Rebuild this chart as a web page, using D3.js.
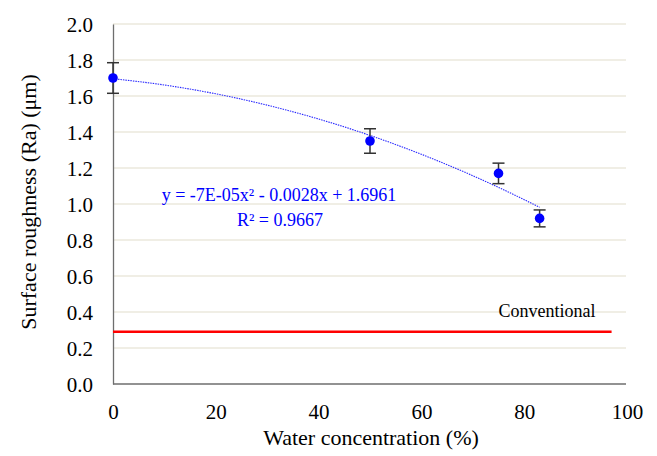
<!DOCTYPE html>
<html><head><meta charset="utf-8">
<script src="https://cdn.jsdelivr.net/npm/d3@7/dist/d3.min.js"></script>
<style>body{margin:0;background:#fff}svg{display:block}</style>
</head><body><svg id="c" width="657" height="456">
<text x="371" y="445" text-anchor="middle" font-size="22" font-family="Liberation Serif">Water concentration (%)</text>
<text transform="translate(36,202) rotate(-90)" text-anchor="middle" font-size="22" font-family="Liberation Serif">Surface roughness (Ra) (μm)</text>
</svg>
<script>
const waterConc = [0, 50, 75, 83];
const roughness = [1.70, 1.35, 1.17, 0.92];
const errors = [0.085, 0.068, 0.057, 0.047];
const trendCoef = [-7e-5, -0.0028, 1.6961]; // a, b, c as shown in the chart
const trendX = [0, 10, 20, 30, 40, 50, 60, 70, 75, 80, 83];
const conventionalValue = 0.29;
const conventionalRange = [0, 97];
const yTicks = [0, 0.2, 0.4, 0.6, 0.8, 1.0, 1.2, 1.4, 1.6, 1.8, 2.0];
const xTicks = [0, 20, 40, 60, 80, 100];

const FONT = "Times New Roman";
const svg = d3.select("#c");
const L = 113, R = 627, T = 24, B = 384;
const x = d3.scaleLinear().domain([0, 100]).range([L, R]);
const y = d3.scaleLinear().domain([0, 2]).range([B, T]);

// gridlines
svg.insert("g", ":first-child").selectAll("line").data(yTicks.filter(d => d > 0)).join("line")
  .attr("x1", L).attr("x2", 626).attr("y1", d => y(d)).attr("y2", d => y(d))
  .attr("stroke", "#ebe8dc").attr("stroke-width", 1.3);

// axes
const yAxis = d3.axisLeft(y).tickValues(yTicks).tickFormat(d3.format(".1f")).tickSize(0).tickPadding(20);
const gy = svg.append("g").attr("transform", `translate(${L},0)`).call(yAxis).attr("font-family", FONT).attr("font-size", 21);
gy.select(".domain").attr("stroke", "#6e6e6e").attr("stroke-width", 1.3);
gy.selectAll("text").attr("fill", "#000").attr("dy", "0.34em");

const xAxis = d3.axisBottom(x).tickValues(xTicks).tickSize(0).tickPadding(20);
const gx = svg.append("g").attr("transform", `translate(0,${B})`).call(xAxis).attr("font-family", FONT).attr("font-size", 21);
gx.select(".domain").attr("stroke", "#6e6e6e").attr("stroke-width", 1.3).attr("d", `M${L},0H626`);
gx.selectAll("text").attr("fill", "#000");

// conventional line
svg.append("line").attr("x1", x(conventionalRange[0])).attr("x2", x(conventionalRange[1]))
  .attr("y1", y(conventionalValue)).attr("y2", y(conventionalValue))
  .attr("stroke", "#ff0000").attr("stroke-width", 2.5);
svg.append("text").attr("x", 547).attr("y", 317).attr("text-anchor", "middle")
  .attr("font-size", 18).attr("font-family", "serif").text("Conventional");

// trendline
const line = d3.line().x(d => x(d)).y(d => y(trendCoef[0]*d*d + trendCoef[1]*d + trendCoef[2])).curve(d3.curveMonotoneX);
svg.append("path").datum(trendX).attr("d", line).attr("fill", "none")
  .attr("stroke", "#2a2aff").attr("stroke-width", 1.1).attr("stroke-dasharray", "1.5,1");

// error bars
const data = waterConc.map((w, i) => ({w, v: roughness[i], e: errors[i]}));
const eb = svg.append("g").attr("stroke", "#333").attr("stroke-width", 1.5);
data.forEach(d => {
  eb.append("line").attr("x1", x(d.w)).attr("x2", x(d.w)).attr("y1", y(d.v + d.e)).attr("y2", y(d.v - d.e));
  eb.append("line").attr("x1", x(d.w) - 6).attr("x2", x(d.w) + 6).attr("y1", y(d.v + d.e)).attr("y2", y(d.v + d.e));
  eb.append("line").attr("x1", x(d.w) - 6).attr("x2", x(d.w) + 6).attr("y1", y(d.v - d.e)).attr("y2", y(d.v - d.e));
});
svg.append("g").selectAll("circle").data(data).join("circle")
  .attr("cx", d => x(d.w)).attr("cy", d => y(d.v)).attr("r", 4.8).attr("fill", "#0000ff");

// equation
svg.append("text").attr("x", 279).attr("y", 201).attr("text-anchor", "middle")
  .attr("font-size", 18).attr("fill", "#0000ff").attr("font-family", "Liberation Serif").text("y = -7E-05x² - 0.0028x + 1.6961");
svg.append("text").attr("x", 280).attr("y", 226).attr("text-anchor", "middle")
  .attr("font-size", 18).attr("fill", "#0000ff").attr("font-family", "Liberation Serif").text("R² = 0.9667");
</script></body></html>
